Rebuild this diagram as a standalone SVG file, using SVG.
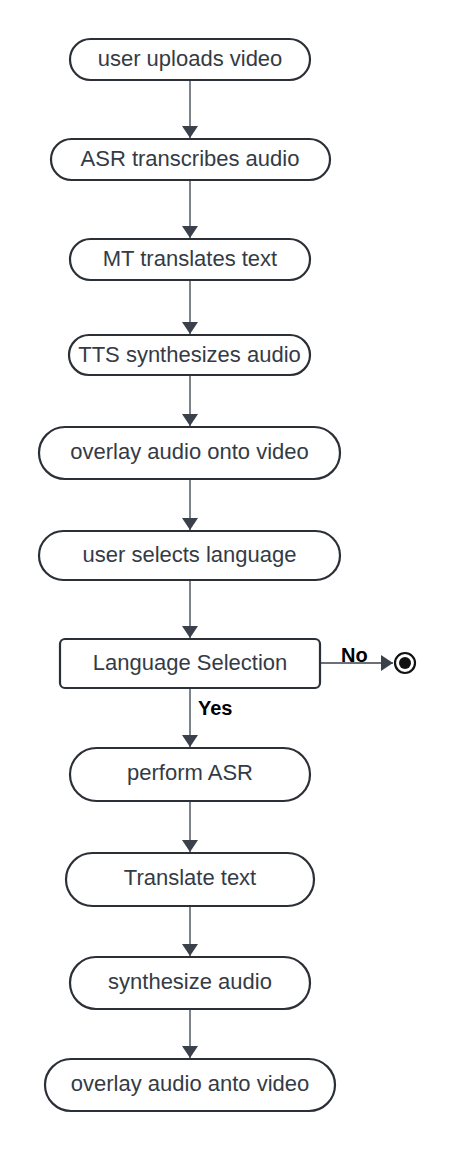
<svg xmlns="http://www.w3.org/2000/svg" width="455" height="1152" viewBox="0 0 455 1152">
<defs>
<style>
.n{fill:#fff;stroke:#2b2f36;stroke-width:2.2}
.t{font-family:"Liberation Sans",Arial,sans-serif;font-size:22px;fill:#343b45;text-anchor:middle;dominant-baseline:central}
.e{stroke:#3a414b;stroke-width:1.3;fill:none}
.l{font-family:"Liberation Sans",Arial,sans-serif;font-size:20px;font-weight:bold;fill:#000}
</style>
<marker id="ah" viewBox="0 0 12 16" refX="12" refY="8" markerWidth="12" markerHeight="16" markerUnits="userSpaceOnUse" orient="auto">
<path d="M0,0 L12,8 L0,16 Z" fill="#3a414b"/>
</marker>
</defs>
<rect width="455" height="1152" fill="#fff"/>
<g id="connectors">
<line class="e" x1="190" y1="80" x2="190" y2="138" marker-end="url(#ah)"/>
<line class="e" x1="190" y1="180" x2="190" y2="238" marker-end="url(#ah)"/>
<line class="e" x1="190" y1="280" x2="190" y2="334" marker-end="url(#ah)"/>
<line class="e" x1="190" y1="375" x2="190" y2="426" marker-end="url(#ah)"/>
<line class="e" x1="190" y1="479" x2="190" y2="530" marker-end="url(#ah)"/>
<line class="e" x1="190" y1="580" x2="190" y2="638" marker-end="url(#ah)"/>
<line class="e" x1="190" y1="688" x2="190" y2="747" marker-end="url(#ah)"/>
<line class="e" x1="190" y1="801" x2="190" y2="852" marker-end="url(#ah)"/>
<line class="e" x1="190" y1="906" x2="190" y2="956" marker-end="url(#ah)"/>
<line class="e" x1="190" y1="1009" x2="190" y2="1058" marker-end="url(#ah)"/>
<line class="e" x1="320" y1="663" x2="393" y2="663" marker-end="url(#ah)"/>
<text class="l" x="341" y="662">No</text>
<text class="l" x="198" y="715">Yes</text>
</g>
<g id="n1"><rect class="n" x="70" y="39" width="240" height="41" rx="20.5"/><text class="t" x="190" y="58">user uploads video</text></g>
<g id="n2"><rect class="n" x="51" y="139" width="279" height="41" rx="20.5"/><text class="t" x="190" y="158">ASR transcribes audio</text></g>
<g id="n3"><rect class="n" x="70" y="239" width="240" height="41" rx="20.5"/><text class="t" x="190" y="258">MT translates text</text></g>
<g id="n4"><rect class="n" x="69" y="335" width="241" height="40" rx="20"/><text class="t" x="189.5" y="354">TTS synthesizes audio</text></g>
<g id="n5"><rect class="n" x="39" y="427" width="301" height="52" rx="26"/><text class="t" x="189.5" y="451">overlay audio onto video</text></g>
<g id="n6"><rect class="n" x="39" y="531" width="301" height="49" rx="24.5"/><text class="t" x="189.5" y="554">user selects language</text></g>
<g id="n7"><rect class="n" x="60" y="639" width="260" height="49" rx="5"/><text class="t" x="190" y="662">Language Selection</text></g>
<g id="end"><circle cx="405" cy="663" r="10" fill="#fff" stroke="#111" stroke-width="2.2"/><circle cx="405" cy="663" r="6" fill="#111"/></g>
<g id="n8"><rect class="n" x="70" y="748" width="240" height="53" rx="26.5"/><text class="t" x="190" y="772.5">perform ASR</text></g>
<g id="n9"><rect class="n" x="66" y="853" width="248" height="53" rx="26.5"/><text class="t" x="190" y="877.5">Translate text</text></g>
<g id="n10"><rect class="n" x="70" y="957" width="240" height="52" rx="26"/><text class="t" x="190" y="981">synthesize audio</text></g>
<g id="n11"><rect class="n" x="45" y="1059" width="290" height="52" rx="26"/><text class="t" x="190" y="1083">overlay audio anto video</text></g>
</svg>
